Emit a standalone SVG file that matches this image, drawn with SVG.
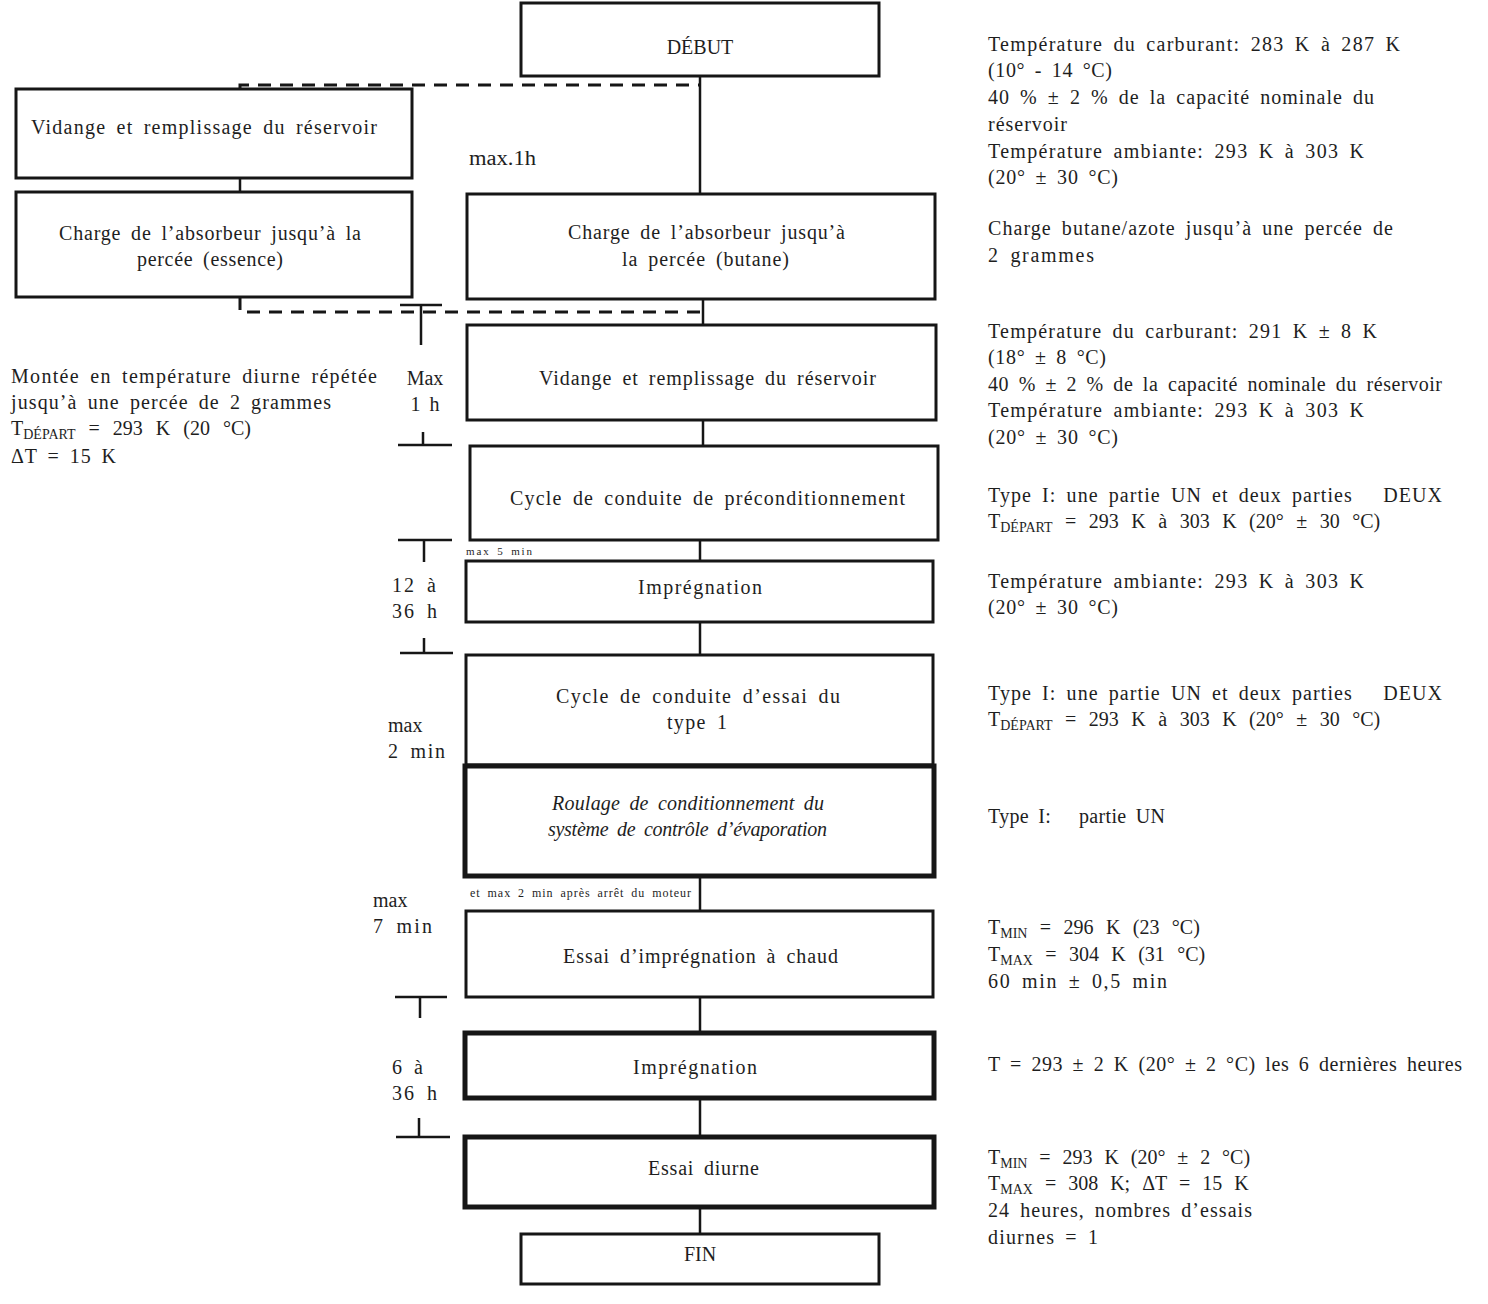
<svg xmlns="http://www.w3.org/2000/svg" width="1488" height="1304" viewBox="0 0 1488 1304">
<style>
.bg{fill:#fff}
.box{fill:#fff;stroke:#161616;stroke-width:3}
.thick{stroke-width:5}
.ln{stroke:#161616;stroke-width:2.5;fill:none}
.dash{stroke:#161616;stroke-width:3;fill:none;stroke-dasharray:13 9}
.t{font-family:"Liberation Serif","DejaVu Serif",serif;font-size:20px;fill:#1e1e1e;word-spacing:4px}
.c{text-anchor:middle}
.i{font-style:italic}
.sub{font-size:14px}
</style>
<rect class="bg" x="0" y="0" width="1488" height="1304"/>

<g id="connectors">
  <path class="ln" d="M700 76 V194"/>
  <path class="dash" d="M240 89 V85 H700"/>
  <path class="ln" d="M240 178 V192"/>
  <path class="dash" d="M240 297 V312 H703"/>
  <path class="ln" d="M703 299 V325"/>
  <path class="ln" d="M703 420 V446"/>
  <path class="ln" d="M700 540 V561"/>
  <path class="ln" d="M700 622 V655"/>
  <path class="ln" d="M700 876 V911"/>
  <path class="ln" d="M700 997 V1033"/>
  <path class="ln" d="M700 1098 V1137"/>
  <path class="ln" d="M700 1207 V1234"/>
</g>

<g id="timing-marks">
  <path class="ln" d="M400 305 H442 M421 305 V345"/>
  <path class="ln" d="M398 445 H452 M423 432 V445"/>
  <path class="ln" d="M398 540 H452 M424 540 V562"/>
  <path class="ln" d="M400 653 H453 M424 638 V653"/>
  <path class="ln" d="M395 997 H447 M420 997 V1018"/>
  <path class="ln" d="M396 1137 H450 M419 1118 V1137"/>
  <text class="t" x="469" y="165" textLength="67" lengthAdjust="spacingAndGlyphs">max.1h</text>
  <text class="t c" x="425" y="385">Max</text>
  <text class="t c" x="425" y="411">1 h</text>
  <text class="t" x="466" y="555" style="font-size:11px;word-spacing:2px" textLength="66">max 5 min</text>
  <text class="t" x="392" y="592" textLength="44">12 à</text>
  <text class="t" x="392" y="618" textLength="45">36 h</text>
  <text class="t" x="388" y="732">max</text>
  <text class="t" x="388" y="758" textLength="57">2 min</text>
  <text class="t" x="470" y="897" style="font-size:12px;word-spacing:3px" textLength="221">et max 2 min après arrêt du moteur</text>
  <text class="t" x="373" y="907">max</text>
  <text class="t" x="373" y="933" textLength="59">7 min</text>
  <text class="t" x="392" y="1074" textLength="31">6 à</text>
  <text class="t" x="392" y="1100" textLength="45">36 h</text>
</g>

<g id="n-debut">
  <rect class="box" x="521" y="3" width="358" height="73"/>
  <text class="t c" x="700" y="54">DÉBUT</text>
</g>
<g id="n-vidange-left">
  <rect class="box" x="16" y="89" width="396" height="89"/>
  <text class="t" x="31" y="134" textLength="346">Vidange et remplissage du réservoir</text>
</g>
<g id="n-charge-essence">
  <rect class="box" x="16" y="192" width="396" height="105"/>
  <text class="t" x="59" y="240" textLength="302">Charge de l’absorbeur jusqu’à la</text>
  <text class="t" x="137" y="266" textLength="146">percée (essence)</text>
</g>
<g id="n-charge-butane">
  <rect class="box" x="467" y="194" width="468" height="105"/>
  <text class="t" x="568" y="239" textLength="277">Charge de l’absorbeur jusqu’à</text>
  <text class="t" x="622" y="266" textLength="167">la percée (butane)</text>
</g>
<g id="n-vidange">
  <rect class="box" x="467" y="325" width="469" height="95"/>
  <text class="t" x="539" y="385" textLength="337">Vidange et remplissage du réservoir</text>
</g>
<g id="n-precond">
  <rect class="box" x="470" y="446" width="468" height="94"/>
  <text class="t" x="510" y="505" textLength="395">Cycle de conduite de préconditionnement</text>
</g>
<g id="n-impregnation1">
  <rect class="box" x="466" y="561" width="467" height="61"/>
  <text class="t" x="638" y="594" textLength="124">Imprégnation</text>
</g>
<g id="n-cycle-essai">
  <rect class="box" x="466" y="655" width="467" height="110"/>
  <text class="t" x="556" y="703" textLength="284">Cycle de conduite d’essai du</text>
  <text class="t" x="667" y="729" textLength="60">type 1</text>
</g>
<g id="n-roulage">
  <rect class="box thick" x="465" y="766" width="469" height="110"/>
  <text class="t i" x="552" y="810" textLength="272">Roulage de conditionnement du</text>
  <text class="t i" x="548" y="836" textLength="279">système de contrôle d’évaporation</text>
</g>
<g id="n-chaud">
  <rect class="box" x="466" y="911" width="467" height="86"/>
  <text class="t" x="563" y="963" textLength="275">Essai d’imprégnation à chaud</text>
</g>
<g id="n-impregnation2">
  <rect class="box thick" x="465" y="1033" width="469" height="65"/>
  <text class="t" x="633" y="1074" textLength="124">Imprégnation</text>
</g>
<g id="n-diurne">
  <rect class="box thick" x="465" y="1137" width="469" height="70"/>
  <text class="t" x="648" y="1175" textLength="111">Essai diurne</text>
</g>
<g id="n-fin">
  <rect class="box" x="521" y="1234" width="358" height="50"/>
  <text class="t c" x="700" y="1261">FIN</text>
</g>

<g id="notes-left">
  <text class="t" x="11" y="383" textLength="366">Montée en température diurne répétée</text>
  <text class="t" x="11" y="409" textLength="320">jusqu’à une percée de 2 grammes</text>
  <text class="t" x="11" y="435" style="word-spacing:8px">T<tspan class="sub" dy="4">DÉPART</tspan><tspan dy="-4"> = 293 K (20 °C)</tspan></text>
  <text class="t" x="11" y="463" textLength="105">ΔT = 15 K</text>
</g>

<g id="notes-right">
  <text class="t" x="988" y="51" textLength="412">Température du carburant: 283 K à 287 K</text>
  <text class="t" x="988" y="77" textLength="124">(10° - 14 °C)</text>
  <text class="t" x="988" y="104" textLength="386">40 % ± 2 % de la capacité nominale du</text>
  <text class="t" x="988" y="131" textLength="79">réservoir</text>
  <text class="t" x="988" y="158" textLength="376">Température ambiante: 293 K à 303 K</text>
  <text class="t" x="988" y="184" textLength="130">(20° ± 30 °C)</text>
  <text class="t" x="988" y="235" textLength="405">Charge butane/azote jusqu’à une percée de</text>
  <text class="t" x="988" y="262" textLength="106">2 grammes</text>
  <text class="t" x="988" y="338" textLength="389">Température du carburant: 291 K ± 8 K</text>
  <text class="t" x="988" y="364" textLength="118">(18° ± 8 °C)</text>
  <text class="t" x="988" y="391" textLength="454">40 % ± 2 % de la capacité nominale du réservoir</text>
  <text class="t" x="988" y="417" textLength="376">Température ambiante: 293 K à 303 K</text>
  <text class="t" x="988" y="444" textLength="130">(20° ± 30 °C)</text>
  <text class="t" x="988" y="502" textLength="454" xml:space="preserve">Type I: une partie UN et deux parties   DEUX</text>
  <text class="t" x="988" y="528" style="word-spacing:7.5px">T<tspan class="sub" dy="4">DÉPART</tspan><tspan dy="-4"> = 293 K à 303 K (20° ± 30 °C)</tspan></text>
  <text class="t" x="988" y="588" textLength="376">Température ambiante: 293 K à 303 K</text>
  <text class="t" x="988" y="614" textLength="130">(20° ± 30 °C)</text>
  <text class="t" x="988" y="700" textLength="454" xml:space="preserve">Type I: une partie UN et deux parties   DEUX</text>
  <text class="t" x="988" y="726" style="word-spacing:7.5px">T<tspan class="sub" dy="4">DÉPART</tspan><tspan dy="-4"> = 293 K à 303 K (20° ± 30 °C)</tspan></text>
  <text class="t" x="988" y="823" textLength="177" xml:space="preserve">Type I:   partie UN</text>
  <text class="t" x="988" y="934" style="word-spacing:7.4px">T<tspan class="sub" dy="4">MIN</tspan><tspan dy="-4"> = 296 K (23 °C)</tspan></text>
  <text class="t" x="988" y="961" style="word-spacing:7.4px">T<tspan class="sub" dy="4">MAX</tspan><tspan dy="-4"> = 304 K (31 °C)</tspan></text>
  <text class="t" x="988" y="988" textLength="179">60 min ± 0,5 min</text>
  <text class="t" x="988" y="1071" textLength="474">T = 293 ± 2 K (20° ± 2 °C) les 6 dernières heures</text>
  <text class="t" x="988" y="1164" style="word-spacing:6.9px">T<tspan class="sub" dy="4">MIN</tspan><tspan dy="-4"> = 293 K (20° ± 2 °C)</tspan></text>
  <text class="t" x="988" y="1190" style="word-spacing:7px">T<tspan class="sub" dy="4">MAX</tspan><tspan dy="-4"> = 308 K; ΔT = 15 K</tspan></text>
  <text class="t" x="988" y="1217" textLength="264">24 heures, nombres d’essais</text>
  <text class="t" x="988" y="1244" textLength="110">diurnes = 1</text>
</g>
</svg>
